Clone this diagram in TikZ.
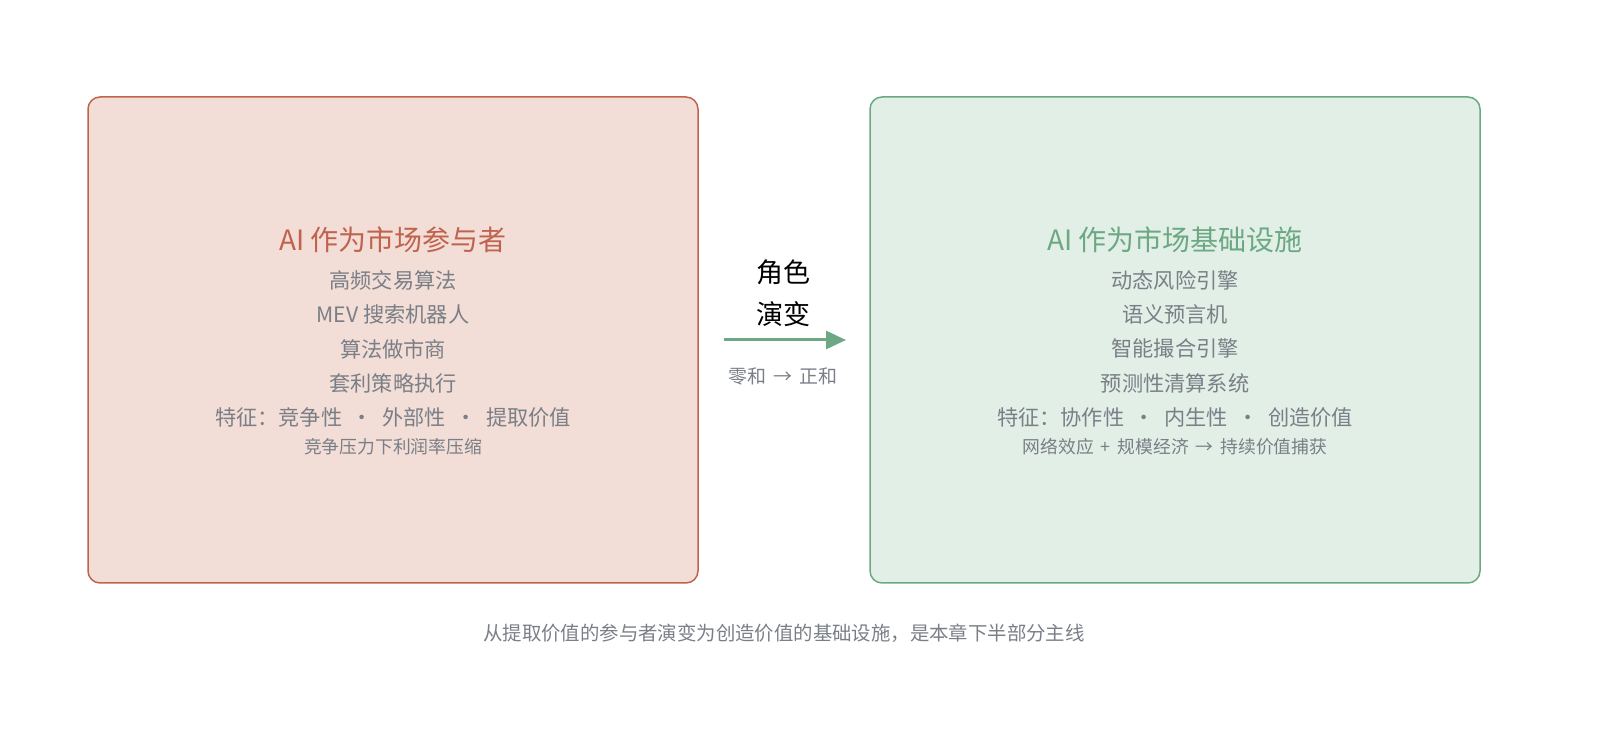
\documentclass[tikz,border=0pt]{standalone}
\usepackage{fontspec}
\setmainfont{Noto Sans CJK SC}
\usetikzlibrary{arrows.meta}
\definecolor{redline}{HTML}{C0634E}
\definecolor{redfill}{HTML}{F2DDD7}
\definecolor{greenline}{HTML}{6CA883}
\definecolor{greenfill}{HTML}{E1EFE7}
\definecolor{textgray}{HTML}{7A7F87}

\begin{document}
\begin{tikzpicture}[x=0.5pt, y=-0.5pt,
    panel/.style={line width=0.75pt, rounded corners=6pt},
    title/.style={font=\fontsize{14}{16}\selectfont},
    item/.style={text=textgray, font=\fontsize{10.6}{12}\selectfont},
    note/.style={text=textgray, font=\fontsize{8.9}{10}\selectfont}]
  \useasboundingbox (0,0) rectangle (1600,747);

  % panels
  \draw[panel, draw=redline, fill=redfill] (88,97) rectangle (698,583);
  \draw[panel, draw=greenline, fill=greenfill] (870,97) rectangle (1480,583);

  % left panel text
  \node[title, text=redline] (lt) at (393,240) {AI 作为市场参与者};
  \foreach \t [count=\i] in {高频交易算法, MEV 搜索机器人, 算法做市商, 套利策略执行,
      特征：竞争性 \ · \ 外部性 \ · \ 提取价值} {
    \node[item] (l\i) at (393,246+34.3*\i) {\t};
  }
  \node[note] (ln) at (393,447) {竞争压力下利润率压缩};

  % right panel text
  \node[title, text=greenline] (rt) at (1175,240) {AI 作为市场基础设施};
  \foreach \t [count=\i] in {动态风险引擎, 语义预言机, 智能撮合引擎, 预测性清算系统,
      特征：协作性 \ · \ 内生性 \ · \ 创造价值} {
    \node[item] (r\i) at (1175,246+34.3*\i) {\t};
  }
  \node[note] (rn) at (1175,447) {网络效应 \,+\, 规模经济 \,→\, 持续价值捕获};

  % arrow between panels
  \node[font=\fontsize{13.5}{15}\selectfont] (m1) at (783,272) {角色};
  \node[font=\fontsize{13.5}{15}\selectfont] (m2) at (783,314) {演变};
  \coordinate (as) at (724,340);
  \coordinate (ae) at (846,340);
  \draw[greenline, line width=1.5pt, -{Triangle[length=10pt, width=9pt]}] (as) -- (ae);
  \node[text=textgray, font=\fontsize{9.5}{11}\selectfont] (mz) at (783,376) {零和 \,→\, 正和};

  % caption
  \node[text=textgray, font=\fontsize{9.7}{11}\selectfont] (cap) at (784,633)
    {从提取价值的参与者演变为创造价值的基础设施，是本章下半部分主线};
\end{tikzpicture}
\end{document}
